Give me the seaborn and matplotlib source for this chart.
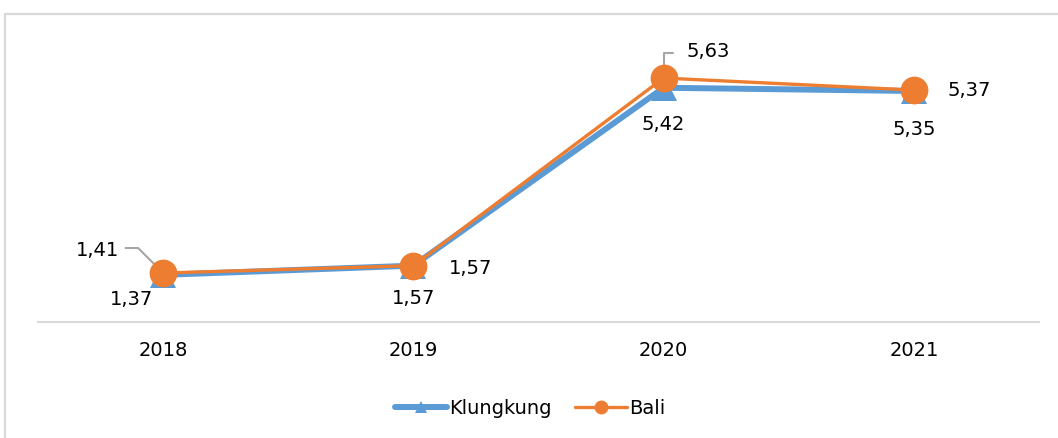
import pandas as pd
import matplotlib
matplotlib.use('Agg')
import matplotlib.pyplot as plt
from matplotlib.lines import Line2D
from matplotlib.patches import Rectangle
import seaborn as sns

# data
years = ['2018', '2019', '2020', '2021']
klungkung = [1.37, 1.57, 5.42, 5.35]
bali = [1.41, 1.57, 5.63, 5.37]

# label offsets (points) relative to each data point
klk_offsets = [(-23, -18), (0, -24), (0, -26.5), (0, -28)]
bali_offsets = [(-47, 16.5), (41, -2), (32, 19), (40, 0)]

BLUE = '#5B9BD5'
ORANGE = '#ED7D31'
GRID = '#D9D9D9'

sns.set_theme(style='white')
plt.rcParams['font.family'] = ['DejaVu Sans']
plt.rcParams['text.color'] = 'black'

df = pd.DataFrame({'year': years, 'Klungkung': klungkung, 'Bali': bali})

fig = plt.figure(figsize=(10.58, 4.38), dpi=100)
ax = fig.add_axes([38 / 1058, (438 - 322) / 438, (1039 - 38) / 1058, (322 - 30) / 438])

sns.lineplot(data=df, x='year', y='Klungkung', ax=ax, color=BLUE, linewidth=4.3,
             marker='^', markersize=19, markeredgewidth=0, zorder=3)
sns.lineplot(data=df, x='year', y='Bali', ax=ax, color=ORANGE, linewidth=2.4,
             marker='o', markersize=20, markeredgewidth=0, zorder=4)

ax.set_xlim(-0.5, 3.5)
ax.set_ylim(0.35, 6.67)
ax.set_xlabel('')
ax.set_ylabel('')
ax.set_yticks([])
for s in ['top', 'left', 'right']:
    ax.spines[s].set_visible(False)
ax.spines['bottom'].set_color(GRID)
ax.spines['bottom'].set_linewidth(1.5)
ax.tick_params(axis='x', length=0, pad=14, labelsize=14, labelcolor='black')

def fmt(v):
    return f'{v:.2f}'.replace('.', ',')

for i, v in enumerate(klungkung):
    ax.annotate(fmt(v), (i, v), xytext=klk_offsets[i], textcoords='offset points',
                ha='center', va='center', fontsize=14, color='black', zorder=6)
for i, v in enumerate(bali):
    ax.annotate(fmt(v), (i, v), xytext=bali_offsets[i], textcoords='offset points',
                ha='center', va='center', fontsize=14, color='black', zorder=6)

# leader lines for the two labels that sit away from their points
ax.annotate('', xy=(0, bali[0]), xytext=(-27, 18), textcoords='offset points',
            arrowprops=dict(arrowstyle='-', color='#A6A6A6', lw=1.5, shrinkA=0, shrinkB=2,
                            connectionstyle='angle,angleA=0,angleB=135,rad=0'), zorder=2)
ax.annotate('', xy=(2, bali[2]), xytext=(7, 18), textcoords='offset points',
            arrowprops=dict(arrowstyle='-', color='#A6A6A6', lw=1.5, shrinkA=0, shrinkB=2,
                            connectionstyle='angle,angleA=0,angleB=90,rad=0'), zorder=2)

handles = [
    Line2D([], [], color=BLUE, lw=4.3, marker='^', markersize=9, markeredgewidth=0),
    Line2D([], [], color=ORANGE, lw=2.4, marker='o', markersize=10, markeredgewidth=0),
]
leg = fig.legend(handles, ['Klungkung', 'Bali'], loc='center', bbox_to_anchor=(530 / 1058, 30 / 438),
                 ncol=2, frameon=False, fontsize=14, handlelength=2.7, handletextpad=0.1,
                 columnspacing=1.2)
for t in leg.get_texts():
    t.set_color('black')

# chart area frame (cropped at right and bottom in the original)
fig.add_artist(Rectangle((5 / 1058, -0.1), 1.2, (438 - 14) / 438 + 0.1, transform=fig.transFigure,
                         fill=False, edgecolor=GRID, linewidth=1.6))

fig.savefig('out.png', dpi=100)
